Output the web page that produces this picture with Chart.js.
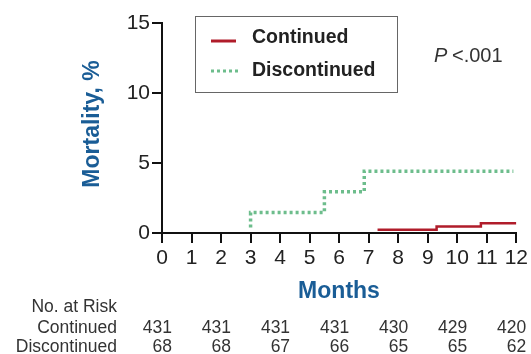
<!DOCTYPE html>
<html><head><meta charset="utf-8">
<script src="https://cdn.jsdelivr.net/npm/chart.js@4.4.1/dist/chart.umd.min.js"></script>
<style>html,body{margin:0;padding:0;background:#fff}#wrap{width:531px;height:354px}</style>
</head><body><div id="wrap"><canvas id="c" width="531" height="354"></canvas></div>
<script>
const seriesNames = ['Continued', 'Discontinued'];
const continuedX = [7.3, 9.3, 10.8, 12];
const continuedY = [0.23, 0.46, 0.7, 0.7];
const discontinuedX = [3, 3, 5.5, 6.85, 11.9];
const discontinuedY = [0.4, 1.47, 2.94, 4.41, 4.41];
const riskMonths = [0, 2, 4, 6, 8, 10, 12];
const riskContinued = [431, 431, 431, 431, 430, 429, 420];
const riskDiscontinued = [68, 68, 67, 66, 65, 65, 62];
const xTicks = [0,1,2,3,4,5,6,7,8,9,10,11,12];
const yTicks = [0,5,10,15];

const RED = '#b01c2a', GREEN = '#6dbd8c', BLUE = '#1a5d96';
const FONT = '"Liberation Sans", Arial, sans-serif';

const toPts = (xs, ys) => xs.map((x, i) => ({x, y: ys[i]}));

const extras = {
  id: 'extras',
  afterDraw(chart) {
    const ctx = chart.ctx, xs = chart.scales.x;
    ctx.save();
    // y title
    ctx.fillStyle = BLUE;
    ctx.font = 'bold 23px ' + FONT;
    ctx.textAlign = 'center'; ctx.textBaseline = 'middle';
    ctx.translate(93, 124); ctx.rotate(-Math.PI/2);
    ctx.fillText('Mortality, %', 0, 0);
    ctx.setTransform(1,0,0,1,0,0);
    // x title
    ctx.font = 'bold 23px ' + FONT;
    ctx.fillText('Months', 339, 292);
    // legend box
    ctx.strokeStyle = '#666'; ctx.lineWidth = 1;
    ctx.strokeRect(195.5, 16.5, 202, 76);
    ctx.lineWidth = 3;
    ctx.strokeStyle = RED; ctx.setLineDash([]);
    ctx.beginPath(); ctx.moveTo(211, 41); ctx.lineTo(236, 41); ctx.stroke();
    ctx.strokeStyle = GREEN; ctx.setLineDash([3, 3]);
    ctx.beginPath(); ctx.moveTo(211, 71); ctx.lineTo(238, 71); ctx.stroke();
    ctx.setLineDash([]);
    ctx.fillStyle = '#222'; ctx.textAlign = 'left';
    ctx.font = 'bold 19.5px ' + FONT;
    ctx.fillText(seriesNames[0], 252, 38);
    ctx.fillText(seriesNames[1], 252, 71);
    // P value
    ctx.font = 'italic 20px ' + FONT;
    ctx.fillStyle = '#333';
    ctx.fillText('P', 434, 56);
    ctx.font = '20px ' + FONT;
    ctx.fillText('<.001', 452, 56);
    // risk table
    ctx.font = '17.5px ' + FONT;
    ctx.fillStyle = '#333';
    ctx.textAlign = 'right';
    ctx.fillText('No. at Risk', 117, 307);
    ctx.fillText(seriesNames[0], 117, 328);
    ctx.fillText(seriesNames[1], 117, 347);
    riskMonths.forEach((m, i) => {
      const px = xs.getPixelForValue(m) + 10;
      ctx.fillText(String(riskContinued[i]), px, 328);
      ctx.fillText(String(riskDiscontinued[i]), px, 347);
    });
    ctx.restore();
  }
};

new Chart(document.getElementById('c'), {
  type: 'line',
  data: {
    datasets: [
      { label: seriesNames[1], data: toPts(discontinuedX, discontinuedY), borderColor: GREEN,
        borderWidth: 3.5, borderDash: [3, 3], stepped: true, pointRadius: 0, fill: false },
      { label: seriesNames[0], data: toPts(continuedX, continuedY), borderColor: RED,
        borderWidth: 2.5, stepped: true, pointRadius: 0, fill: false }
    ]
  },
  plugins: [extras],
  options: {
    responsive: false, animation: false,
    layout: { padding: { top: 23, right: 14, left: 0, bottom: 0 } },
    plugins: { legend: { display: false }, tooltip: { enabled: false } },
    scales: {
      x: {
        type: 'linear', min: 0, max: 12,
        afterBuildTicks: s => { s.ticks = xTicks.map(v => ({value: v})); },
        afterFit: s => { s.height = 121; },
        border: { color: '#111', width: 2 },
        grid: { drawOnChartArea: false, drawTicks: true, tickLength: 10, color: '#111', lineWidth: 2 },
        ticks: { color: '#222', font: { family: FONT, size: 21 }, padding: 3, maxRotation: 0, autoSkip: false }
      },
      y: {
        min: 0, max: 15,
        afterBuildTicks: s => { s.ticks = yTicks.map(v => ({value: v})); },
        afterFit: s => { s.width = 162; },
        border: { color: '#111', width: 2 },
        grid: { drawOnChartArea: false, drawTicks: true, tickLength: 10, color: '#111', lineWidth: 2 },
        ticks: { color: '#222', font: { family: FONT, size: 21 }, padding: 2 }
      }
    }
  }
});
</script></body></html>
